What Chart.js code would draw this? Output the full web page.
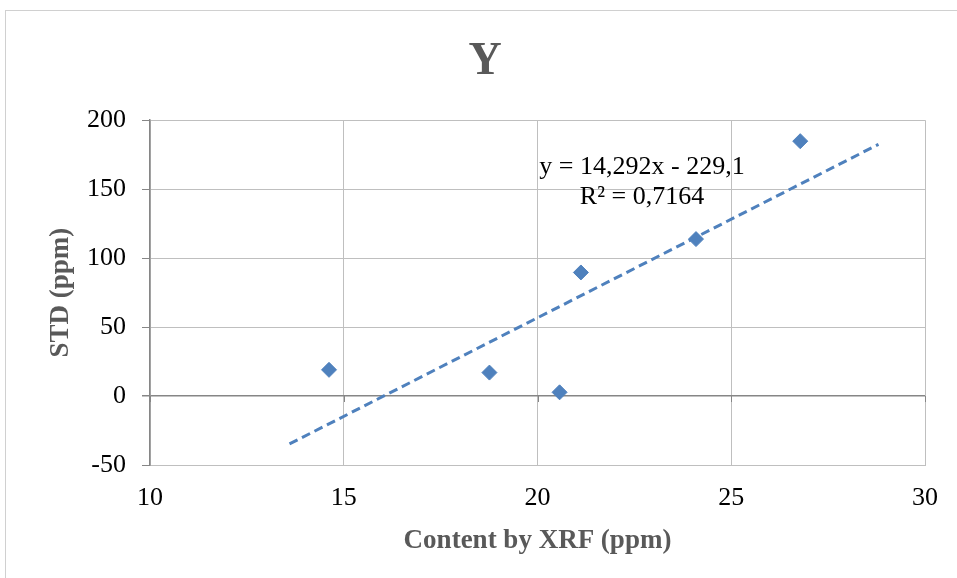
<!DOCTYPE html>
<html><head><meta charset="utf-8">
<script src="https://cdn.jsdelivr.net/npm/chart.js@4.4.1/dist/chart.umd.min.js"></script>
<style>
html,body{margin:0;padding:0;background:#fff;overflow:hidden}
#wrap{position:relative;width:957px;height:578px}
#frame{position:absolute;left:5px;top:10px;width:1000px;height:600px;border:1px solid #d0d0d0;box-sizing:border-box}
canvas{position:absolute;left:0;top:0}
</style></head><body>
<div id="wrap"><div id="frame"></div><canvas id="c" width="957" height="578"></canvas></div>
<script>
const chartTitle = 'Y';
const xTitle = 'Content by XRF (ppm)';
const yTitle = 'STD (ppm)';
const xValues = [14.62, 18.76, 20.57, 21.12, 24.09, 26.78];
const yValues = [19, 17, 2.7, 89.6, 113.8, 184.8];
const trendSlope = 14.292;
const trendIntercept = -229.1;
const trendX = [13.6, 28.8];
const equationLines = ['y = 14,292x - 229,1', 'R² = 0,7164'];
const xTicks = [10, 15, 20, 25, 30];
const yTicks = [-50, 0, 50, 100, 150, 200];

const FONT = "'Liberation Serif', 'Times New Roman', serif";
const AXIS_DARK = '#868686';
const GRID = '#bfbfbf';
const BLUE = '#4f81bd';

const zeroTicks = {
  id: 'zeroTicks',
  afterDraw(chart) {
    const {ctx, scales: {x, y}} = chart;
    const y0 = y.getPixelForValue(0);
    ctx.save();
    ctx.strokeStyle = AXIS_DARK;
    ctx.lineWidth = 1;
    xTicks.forEach(v => {
      const px = Math.round(x.getPixelForValue(v)) + 0.5;
      ctx.beginPath();
      ctx.moveTo(px, y0);
      ctx.lineTo(px, y0 + 6);
      ctx.stroke();
    });
    ctx.restore();
  }
};

const equationLabel = {
  id: 'equationLabel',
  afterDatasetsDraw(chart) {
    const {ctx, chartArea} = chart;
    const cx = chartArea.left + 492;
    ctx.save();
    ctx.fillStyle = '#000';
    ctx.font = "26px " + FONT;
    ctx.textAlign = 'center';
    ctx.textBaseline = 'middle';
    ctx.fillText(equationLines[0], cx, chartArea.top + 47);
    ctx.fillText(equationLines[1], cx, chartArea.top + 77);
    ctx.restore();
  }
};

new Chart(document.getElementById('c'), {
  type: 'scatter',
  data: {
    datasets: [
      {
        label: 'Trend',
        data: trendX.map(x => ({x: x, y: trendSlope * x + trendIntercept})),
        showLine: true,
        borderColor: BLUE,
        borderWidth: 3,
        borderDash: [9, 5],
        pointRadius: 0,
        order: 0
      },
      {
        label: 'Y',
        data: xValues.map((x, i) => ({x: x, y: yValues[i]})),
        pointStyle: 'rectRot',
        pointRadius: 7.5,
        backgroundColor: BLUE,
        borderColor: BLUE,
        borderWidth: 1,
        showLine: false,
        order: 1
      }
    ]
  },
  options: {
    responsive: false,
    animation: false,
    layout: {padding: {left: 45, right: 32, top: 0, bottom: 0}},
    plugins: {
      legend: {display: false},
      tooltip: {enabled: false},
      title: {
        display: true,
        text: chartTitle,
        color: '#595959',
        font: {family: FONT, size: 46, weight: 'bold'},
        padding: {top: 35, bottom: 30}
      }
    },
    scales: {
      x: {
        type: 'linear',
        min: 10, max: 30,
        afterBuildTicks: s => { s.ticks = xTicks.map(v => ({value: v})); },
        afterFit: s => { s.height = 113; },
        ticks: {color: '#000', font: {family: FONT, size: 26}, padding: 18, maxRotation: 0},
        grid: {color: GRID, lineWidth: 1, drawTicks: false},
        border: {display: true, color: GRID},
        title: {
          display: true, text: xTitle, color: '#595959',
          font: {family: FONT, size: 27, weight: 'bold'},
          padding: {top: 0, bottom: 21}
        }
      },
      y: {
        type: 'linear',
        min: -50, max: 200,
        afterBuildTicks: s => { s.ticks = yTicks.map(v => ({value: v})); },
        afterFit: s => { s.width = 105; },
        ticks: {color: '#000', font: {family: FONT, size: 26}, padding: 16},
        grid: {
          color: c => (c.tick && c.tick.value === 0) ? AXIS_DARK : GRID,
          lineWidth: c => (c.tick && c.tick.value === 0) ? 1.5 : 1,
          tickColor: AXIS_DARK,
          tickLength: 8,
          drawTicks: true
        },
        border: {display: true, color: AXIS_DARK, width: 1.5},
        title: {
          display: true, text: yTitle, color: '#595959',
          font: {family: FONT, size: 27, weight: 'bold'},
          padding: {top: 0, bottom: 0}
        }
      }
    }
  },
  plugins: [zeroTicks, equationLabel]
});
</script>
</body></html>
